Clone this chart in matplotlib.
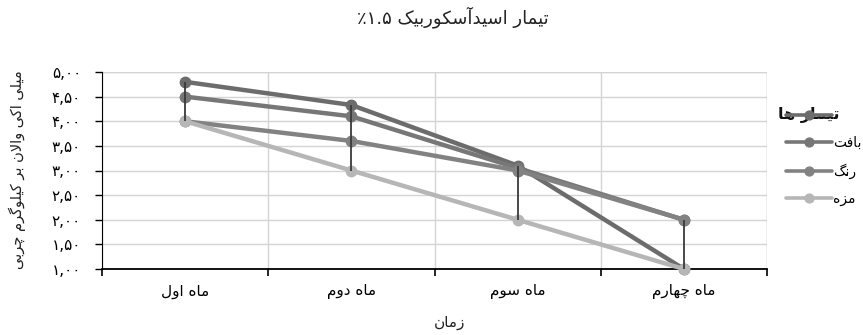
import numpy as np
import matplotlib
matplotlib.use('Agg')
from matplotlib import pyplot as plt

plt.rcParams['font.family'] = ['DejaVu Sans']

# data
months = ['ماه اول', 'ماه دوم', 'ماه سوم', 'ماه چهارم']
series_names = ['تیمار ها', 'بافت', 'رنگ', 'مزه']
s_tim = [4.80, 4.33, 3.10, 1.00]
s_baft = [4.50, 4.10, 3.05, 2.00]
s_rang = [4.00, 3.60, 3.00, 2.00]
s_maze = [4.00, 3.00, 2.00, 1.00]
yticks = [1.0, 1.5, 2.0, 2.5, 3.0, 3.5, 4.0, 4.5, 5.0]

title = 'تیمار اسیدآسکوربیک ۱.۵٪'
ylabel = 'میلی اکی والان بر کیلوگرم چربی'
xlabel = 'زمان'

# arabic letters -> presentation forms (isol, final, init, medial)
FORMS = {
    'ا': ('\uFE8D', '\uFE8E'),
    'آ': ('\uFE81', '\uFE82'),
    'د': ('\uFEA9', '\uFEAA'),
    'ر': ('\uFEAD', '\uFEAE'),
    'ز': ('\uFEAF', '\uFEB0'),
    'و': ('\uFEED', '\uFEEE'),
    'ب': ('\uFE8F', '\uFE90', '\uFE91', '\uFE92'),
    'ت': ('\uFE95', '\uFE96', '\uFE97', '\uFE98'),
    'س': ('\uFEB1', '\uFEB2', '\uFEB3', '\uFEB4'),
    'ف': ('\uFED1', '\uFED2', '\uFED3', '\uFED4'),
    'ل': ('\uFEDD', '\uFEDE', '\uFEDF', '\uFEE0'),
    'م': ('\uFEE1', '\uFEE2', '\uFEE3', '\uFEE4'),
    'ن': ('\uFEE5', '\uFEE6', '\uFEE7', '\uFEE8'),
    'ه': ('\uFEE9', '\uFEEA', '\uFEEB', '\uFEEC'),
    'ی': ('\uFBFC', '\uFBFD', '\uFBFE', '\uFBFF'),
    'ک': ('\uFB8E', '\uFB8F', '\uFB90', '\uFB91'),
    'گ': ('\uFB92', '\uFB93', '\uFB94', '\uFB95'),
    'چ': ('\uFB7A', '\uFB7B', '\uFB7C', '\uFB7D'),
}
NUM = set('۰۱۲۳۴۵۶۷۸۹0123456789.,')


def shape(s):
    out = []
    n = len(s)
    i = 0
    while i < n:
        c = s[i]
        if c not in FORMS:
            out.append(c)
            i += 1
            continue
        prev = s[i - 1] if i > 0 else None
        link_prev = prev in FORMS and len(FORMS[prev]) == 4
        if c == 'ل' and i + 1 < n and s[i + 1] == 'ا':
            out.append('\uFEFC' if link_prev else '\uFEFB')
            i += 2
            continue
        nxt = s[i + 1] if i + 1 < n else None
        link_next = len(FORMS[c]) == 4 and nxt in FORMS
        f = FORMS[c]
        if link_prev and link_next:
            out.append(f[3])
        elif link_prev:
            out.append(f[1])
        elif link_next:
            out.append(f[2])
        else:
            out.append(f[0])
        i += 1
    # keep numbers left-to-right, reverse the rest
    runs = []
    for ch in out:
        if ch in NUM and runs and runs[-1][0] in NUM:
            runs[-1] += ch
        else:
            runs.append(ch)
    return ''.join(reversed(runs))


def fa_num(v):
    s = '%.2f' % v
    s = s.replace('.', ',')
    return s.translate(str.maketrans('0123456789', '۰۱۲۳۴۵۶۷۸۹'))


fig = plt.figure(figsize=(8.63, 3.35), dpi=100)
ax = fig.add_axes([102 / 863, 1 - 269 / 335, 665 / 863, (269 - 72) / 335])

x = np.arange(len(months))
data = [s_tim, s_baft, s_rang, s_maze]
colors = ['#6c6c6c', '#777777', '#828282', '#b6b6b6']

# high-low lines
arr = np.array(data)
ax.vlines(x, arr.min(axis=0), arr.max(axis=0), color='#3a3a3a', lw=1.3, zorder=4)

lines = []
for vals, c, name in zip(data, colors, series_names):
    ln, = ax.plot(x, vals, color=c, lw=3.2, marker='o', ms=7.5, mec=c, mfc=c,
                  solid_capstyle='round', clip_on=False, zorder=3, label=name)
    lines.append(ln)

ax.set_xlim(-0.5, 3.5)
ax.set_ylim(1.0, 5.0)
ax.set_yticks(yticks)
ax.set_yticklabels([fa_num(v) for v in yticks], fontsize=11)
ax.set_xticks(x)
ax.set_xticklabels([shape(m) for m in months], fontsize=11)
ax.tick_params(axis='x', length=0, pad=11)
ax.set_xticks(np.arange(-0.5, 4, 1), minor=True)
ax.tick_params(axis='x', which='minor', length=5, width=1.2, direction='out', color='black')
ax.tick_params(axis='y', length=5, width=1, direction='out', color='black', pad=10)

ax.grid(axis='y', color='#d4d4d4', lw=1)
ax.grid(axis='x', which='minor', color='#d4d4d4', lw=1)
ax.set_axisbelow(True)
for sp in ['top', 'right']:
    ax.spines[sp].set_visible(False)
ax.spines['left'].set_color('black')
ax.spines['bottom'].set_color('black')
ax.spines['bottom'].set_linewidth(1.3)
ax.axvline(3.5, color='#d4d4d4', lw=1, zorder=0)
ax.axhline(5.0, color='#d4d4d4', lw=1, zorder=0)

fig.text(453 / 863, 1 - 17 / 335, shape(title), ha='center', va='center', fontsize=13, color='#222222')
fig.text(450 / 863, 1 - 322 / 335, shape(xlabel), ha='center', va='center', fontsize=11, color='#222222')
fig.text(17 / 863, 1 - 170 / 335, shape(ylabel), ha='center', va='center', rotation=90,
         fontsize=10.5, color='#222222')

leg = ax.legend(lines, [''] + [shape(n) for n in series_names[1:]],
                loc='upper left', bbox_to_anchor=(786 / 863, 1 - 109 / 335),
                bbox_transform=fig.transFigure, frameon=False, fontsize=10,
                handlelength=3.3, handletextpad=0.1, labelspacing=0.95,
                borderpad=0, borderaxespad=0, numpoints=1, markerscale=0.85)
leg.set_zorder(6)
for h in leg.legend_handles:
    h.set_linewidth(2.6)
ax.text(809 / 863, 1 - 115 / 335, shape(series_names[0]), transform=fig.transFigure,
        ha='center', va='center', fontsize=11.5, fontweight='bold', color='#111111',
        zorder=5, clip_on=False)

fig.savefig('out.png', dpi=100)
